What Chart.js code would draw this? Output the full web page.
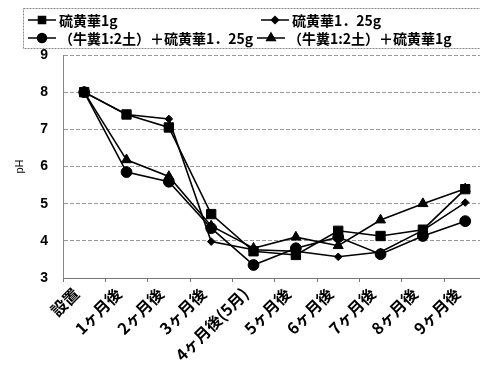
<!DOCTYPE html>
<html>
<head>
<meta charset="utf-8">
<script src="https://cdn.jsdelivr.net/npm/chart.js@4.4.1/dist/chart.umd.min.js"></script>
<style>
  html, body { margin: 0; padding: 0; background: #fff; overflow: hidden; width: 480px; height: 367px; }
  #wrap { position: relative; width: 494px; height: 367px; }
</style>
</head>
<body>
<div id="wrap"><canvas id="c" width="494" height="367"></canvas></div>
<script>
// Sampling times after setup
const categories = ['設置', '1ヶ月後', '2ヶ月後', '3ヶ月後', '4ヶ月後(5月)', '5ヶ月後', '6ヶ月後', '7ヶ月後', '8ヶ月後', '9ヶ月後'];

// pH by treatment
const sulfur1g        = [8.0, 7.40, 7.05, 4.72, 3.72, 3.62, 4.27, 4.13, 4.30, 5.39];
const sulfur125g      = [8.0, 7.40, 7.28, 3.98, 3.76, 3.72, 3.57, 3.70, 4.28, 5.03];
const manure125g      = [8.0, 5.85, 5.59, 4.34, 3.35, 3.80, 4.10, 3.64, 4.13, 4.53];
const manure1g        = [8.0, 6.18, 5.73, 4.40, 3.80, 4.10, 3.87, 4.56, 5.00, 5.40];

const seriesNames = ['硫黄華1g', '硫黄華1．25g', '（牛糞1:2土）＋硫黄華1．25g', '（牛糞1:2土）＋硫黄華1g'];

// Value axis
const yMin = 3;
const yMax = 9;
const yStep = 1;

const JP = '"Noto Sans CJK JP", "Noto Sans", sans-serif';
const NUM = '"Liberation Sans", Arial, sans-serif';

// Boxed two-column key drawn above the plot
const boxLegend = {
  id: 'boxLegend',
  afterDraw(chart) {
    const ctx = chart.ctx;
    ctx.save();
    ctx.strokeStyle = '#888';
    ctx.lineWidth = 1;
    ctx.setLineDash([2, 1]);
    ctx.strokeRect(23.5, 8.5, 475, 40);
    ctx.setLineDash([]);
    const slots = [
      { x: 28, y: 20 }, { x: 261, y: 20 },
      { x: 28, y: 38 }, { x: 257, y: 38 }
    ];
    ctx.font = 'bold 14px ' + JP;
    ctx.textBaseline = 'middle';
    ctx.textAlign = 'left';
    chart.data.datasets.forEach((ds, i) => {
      const s = slots[i];
      ctx.strokeStyle = '#000';
      ctx.fillStyle = '#000';
      ctx.lineWidth = 1.5;
      ctx.beginPath();
      ctx.moveTo(s.x, s.y);
      ctx.lineTo(s.x + 28, s.y);
      ctx.stroke();
      Chart.helpers.drawPoint(ctx, {
        pointStyle: ds.pointStyle,
        radius: ds.legendRadius,
        rotation: 0,
        borderWidth: 1
      }, s.x + 14, s.y);
      ctx.fillStyle = '#000';
      ctx.fillText(ds.label, s.x + 31, s.y + 1);
    });
    ctx.restore();
  }
};

function series(label, data, style, radius, legendRadius) {
  return {
    label, data,
    borderColor: '#000',
    backgroundColor: '#000',
    borderWidth: 1.6,
    pointStyle: style,
    pointRadius: radius,
    pointBorderWidth: 1,
    pointBackgroundColor: '#000',
    pointBorderColor: '#000',
    legendRadius,
    tension: 0,
    fill: false
  };
}

new Chart(document.getElementById('c'), {
  type: 'line',
  data: {
    labels: categories,
    datasets: [
      series(seriesNames[0], sulfur1g, 'rect', 6.6, 5),
      series(seriesNames[1], sulfur125g, 'rectRot', 3.8, 3.5),
      series(seriesNames[2], manure125g, 'circle', 5.4, 4.5),
      series(seriesNames[3], manure1g, 'triangle', 5.8, 5)
    ]
  },
  options: {
    responsive: false,
    animation: false,
    devicePixelRatio: 1,
    layout: { padding: { top: 55, right: 1, bottom: 0, left: 0 } },
    plugins: {
      legend: { display: false },
      tooltip: { enabled: false }
    },
    scales: {
      x: {
        offset: true,
        grid: { display: true, drawOnChartArea: false, offset: true, tickLength: 4, color: '#777' },
        border: { display: true, color: '#777' },
        ticks: {
          autoSkip: false, maxRotation: 45, minRotation: 45,
          color: '#000', padding: 2, labelOffset: -8,
          font: { family: JP, size: 16, weight: 'bold' }
        },
        afterFit(s) { s.height = 89; }
      },
      y: {
        min: yMin, max: yMax,
        ticks: {
          stepSize: yStep, color: '#000', padding: 15,
          font: { family: NUM, size: 14, weight: 'bold' }
        },
        grid: { drawTicks: false, color: '#999' },
        border: { display: true, color: '#888', dash: [4, 2] },
        title: {
          display: true, text: 'pH', color: '#000',
          font: { family: NUM, size: 11 },
          padding: { top: 13, bottom: 0 }
        },
        afterFit(s) { s.width = 63; }
      }
    }
  },
  plugins: [boxLegend]
});
</script>
</body>
</html>
